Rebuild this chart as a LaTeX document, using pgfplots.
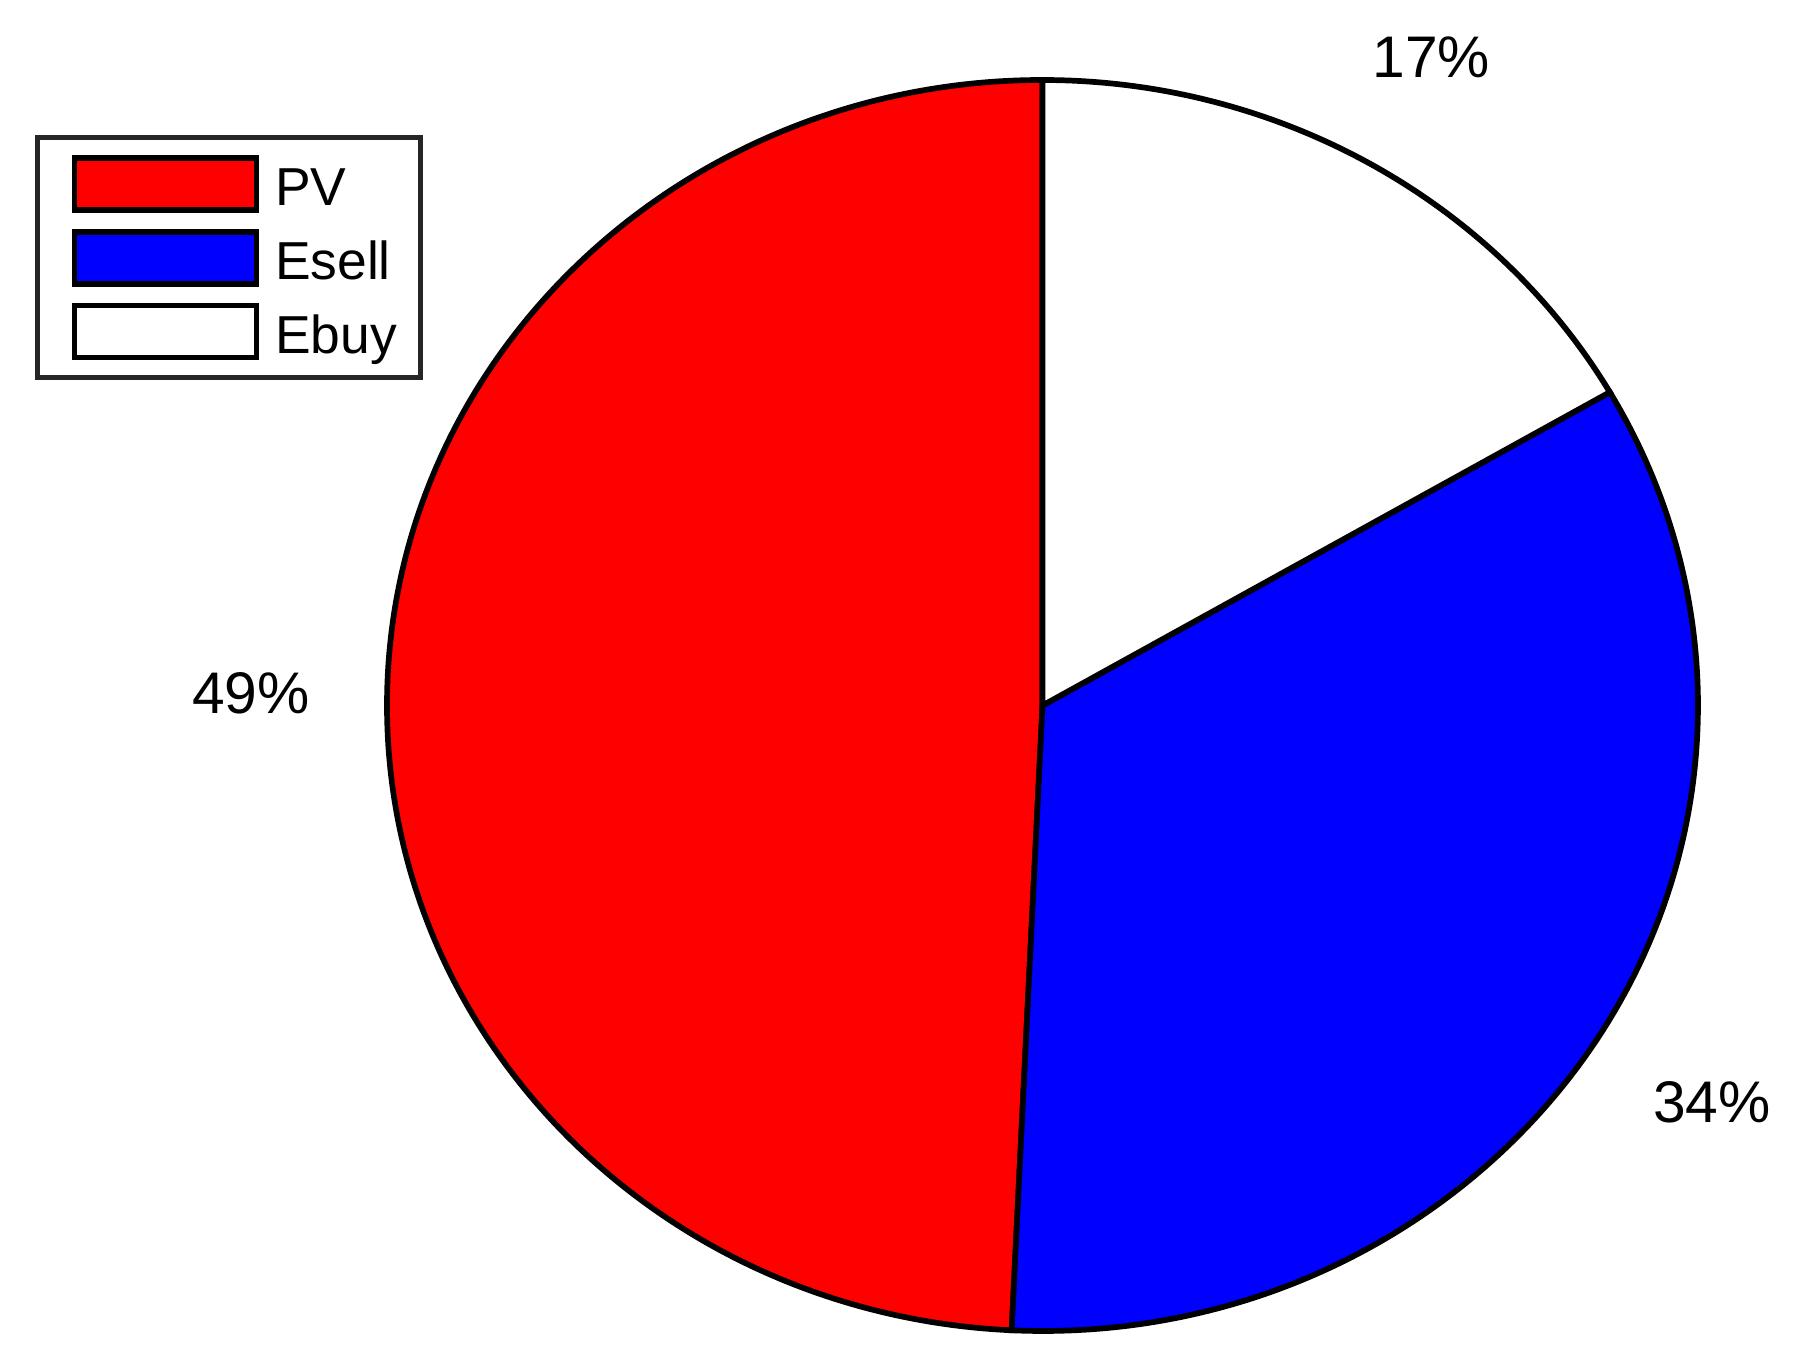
\documentclass[border=0pt]{standalone}
\usepackage{fontspec}
\setmainfont{Liberation Sans}
\usepackage{pgfplots}
\pgfplotsset{compat=1.18}

% slice shares in percent (PV, Esell, Ebuy)
\def\pPV{49.25}
\def\pEs{34.10}
\def\pEb{16.65}

\begin{document}
\begin{tikzpicture}
\begin{axis}[
    x=0.1mm, y=0.1mm,
    xmin=0, xmax=1794, ymin=0, ymax=1371,
    y dir=reverse,
    hide axis, clip=false,
    legend cell align=left,
    legend image code/.code={
        \path[draw=none, fill=none] (-1.355mm,-2.855mm) rectangle (20.05mm,4.515mm);
        \draw[#1, line width=0.57mm] (0mm,-1.77mm) rectangle (18.2mm,3.43mm);
    },
    legend style={
        at={(axis cs:35,135)}, anchor=north west,
        draw=black!85, line width=0.5mm,
        inner xsep=2.35mm, inner ysep=0.97mm,
        row sep=0pt,
        font=\fontsize{15.2}{18}\selectfont,
        nodes={inner sep=0pt, text height=3.8mm, text depth=1.1mm},
        /tikz/every odd column/.style={column sep=0pt},
    },
]
\path (axis cs:0,0) rectangle (axis cs:1794,1371);

\addplot[fill=red, draw=black, line width=0.57mm] coordinates {(1042.5,705.5)}
    -- ++(90:65.55mm and 62.55mm)
    arc[start angle=90, delta angle={3.6*\pPV}, x radius=65.55mm, y radius=62.55mm] -- cycle;
\addplot[fill=blue, draw=black, line width=0.57mm] coordinates {(1042.5,705.5)}
    -- ++({90+3.6*\pPV}:65.55mm and 62.55mm)
    arc[start angle={90+3.6*\pPV}, delta angle={3.6*\pEs}, x radius=65.55mm, y radius=62.55mm] -- cycle;
\addplot[fill=white, draw=black, line width=0.57mm] coordinates {(1042.5,705.5)}
    -- ++({90+3.6*(\pPV+\pEs)}:65.55mm and 62.55mm)
    arc[start angle={90+3.6*(\pPV+\pEs)}, delta angle={3.6*\pEb}, x radius=65.55mm, y radius=62.55mm] -- cycle;
\legend{PV, Esell, Ebuy}

\begin{scope}[every node/.style={inner sep=0pt, anchor=base west, font=\fontsize{16.7}{20}\selectfont}]
\node at (axis cs:1372,78) {17\%};
\node at (axis cs:191.5,714) {49\%};
\node at (axis cs:1652.5,1122) {34\%};
\end{scope}
\end{axis}
\end{tikzpicture}
\end{document}
